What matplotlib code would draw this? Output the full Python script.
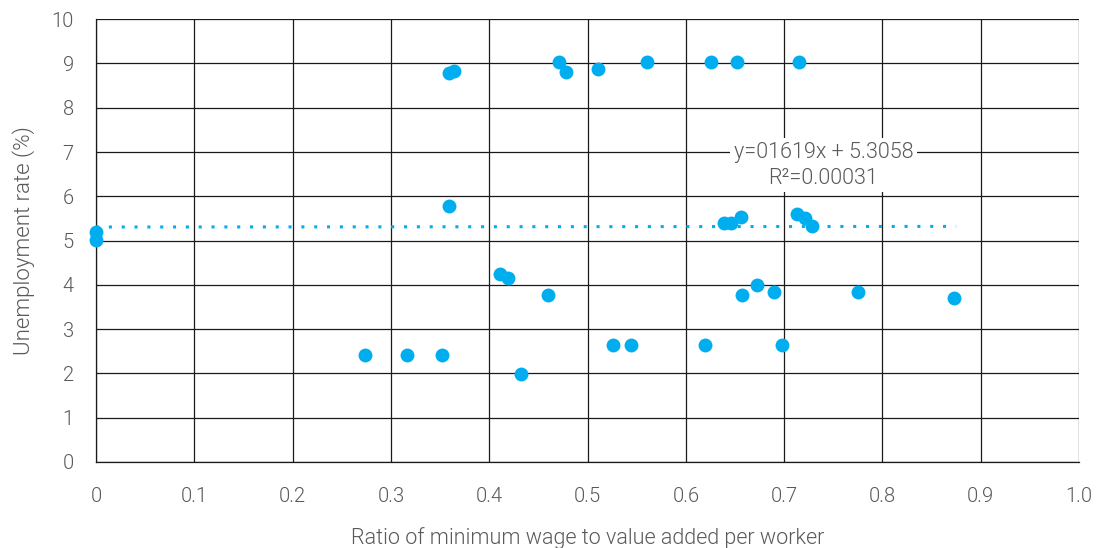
import matplotlib
matplotlib.use("Agg")
import matplotlib.pyplot as plt
import numpy as np

plt.rcParams['font.family'] = ['Roboto', 'DejaVu Sans']
plt.rcParams['font.weight'] = 300
plt.rcParams['axes.labelweight'] = 300

ratio = [0.0, 0.0, 0.274, 0.316, 0.352, 0.359, 0.364, 0.359, 0.411, 0.419,
         0.432, 0.460, 0.471, 0.478, 0.511, 0.526, 0.544, 0.560, 0.620, 0.626,
         0.652, 0.639, 0.646, 0.656, 0.657, 0.672, 0.690, 0.698, 0.713, 0.721,
         0.728, 0.715, 0.775, 0.873]
unemp = [5.19, 5.01, 2.42, 2.42, 2.42, 8.78, 8.83, 5.78, 4.24, 4.15,
         1.99, 3.77, 9.03, 8.80, 8.87, 2.64, 2.64, 9.03, 2.64, 9.03,
         9.03, 5.40, 5.40, 5.53, 3.77, 4.00, 3.84, 2.64, 5.60, 5.51,
         5.33, 9.03, 3.84, 3.70]
trend_slope = 0.01619
trend_intercept = 5.3058
trend_x = [0.0, 0.875]
x_ticks = [0, 0.1, 0.2, 0.3, 0.4, 0.5, 0.6, 0.7, 0.8, 0.9, 1.0]
x_tick_labels = ['0', '0.1', '0.2', '0.3', '0.4', '0.5', '0.6', '0.7', '0.8', '0.9', '1.0']
y_ticks = list(range(0, 11))

blue = '#00AEEF'
gray = '#595959'

fig = plt.figure(figsize=(11.05, 5.48), dpi=100)
ax = fig.add_axes([0.0869, 0.157, 0.8896, 0.808])

tx = np.array(trend_x)
ax.plot(tx, trend_slope * tx + trend_intercept, linestyle=(0, (1, 3.2)),
        color=blue, linewidth=2.2, zorder=3, clip_on=False)
ax.scatter(ratio, unemp, s=100, color=blue, zorder=4, clip_on=False, linewidths=0)

ax.set_xlim(0, 1.0)
ax.set_ylim(0, 10)
ax.set_xticks(x_ticks)
ax.set_xticklabels(x_tick_labels)
ax.set_yticks(y_ticks)
ax.grid(True, color='#1a1a1a', linewidth=0.9)
ax.set_axisbelow(True)
for s in ['top', 'right']:
    ax.spines[s].set_visible(False)
for s in ['left', 'bottom']:
    ax.spines[s].set_color('#1a1a1a')
    ax.spines[s].set_linewidth(0.9)
ax.tick_params(length=0, labelsize=14.5, labelcolor=gray)
ax.tick_params(axis='x', pad=18)
ax.tick_params(axis='y', pad=16)

ax.set_xlabel('Ratio of minimum wage to value added per worker', fontsize=15.5,
              color=gray, labelpad=15, fontweight=300)
ax.set_ylabel('Unemployment rate (%)', fontsize=16, color=gray, labelpad=12,
              fontweight=300)

ax.text(0.74, 6.7, 'y=01619x + 5.3058\nR²=0.00031', ha='center', va='center',
        fontsize=15.5, color=gray, linespacing=1.3, zorder=5, fontweight=300,
        bbox=dict(facecolor='white', edgecolor='none', pad=2.5))

fig.savefig('out.png', dpi=100)
